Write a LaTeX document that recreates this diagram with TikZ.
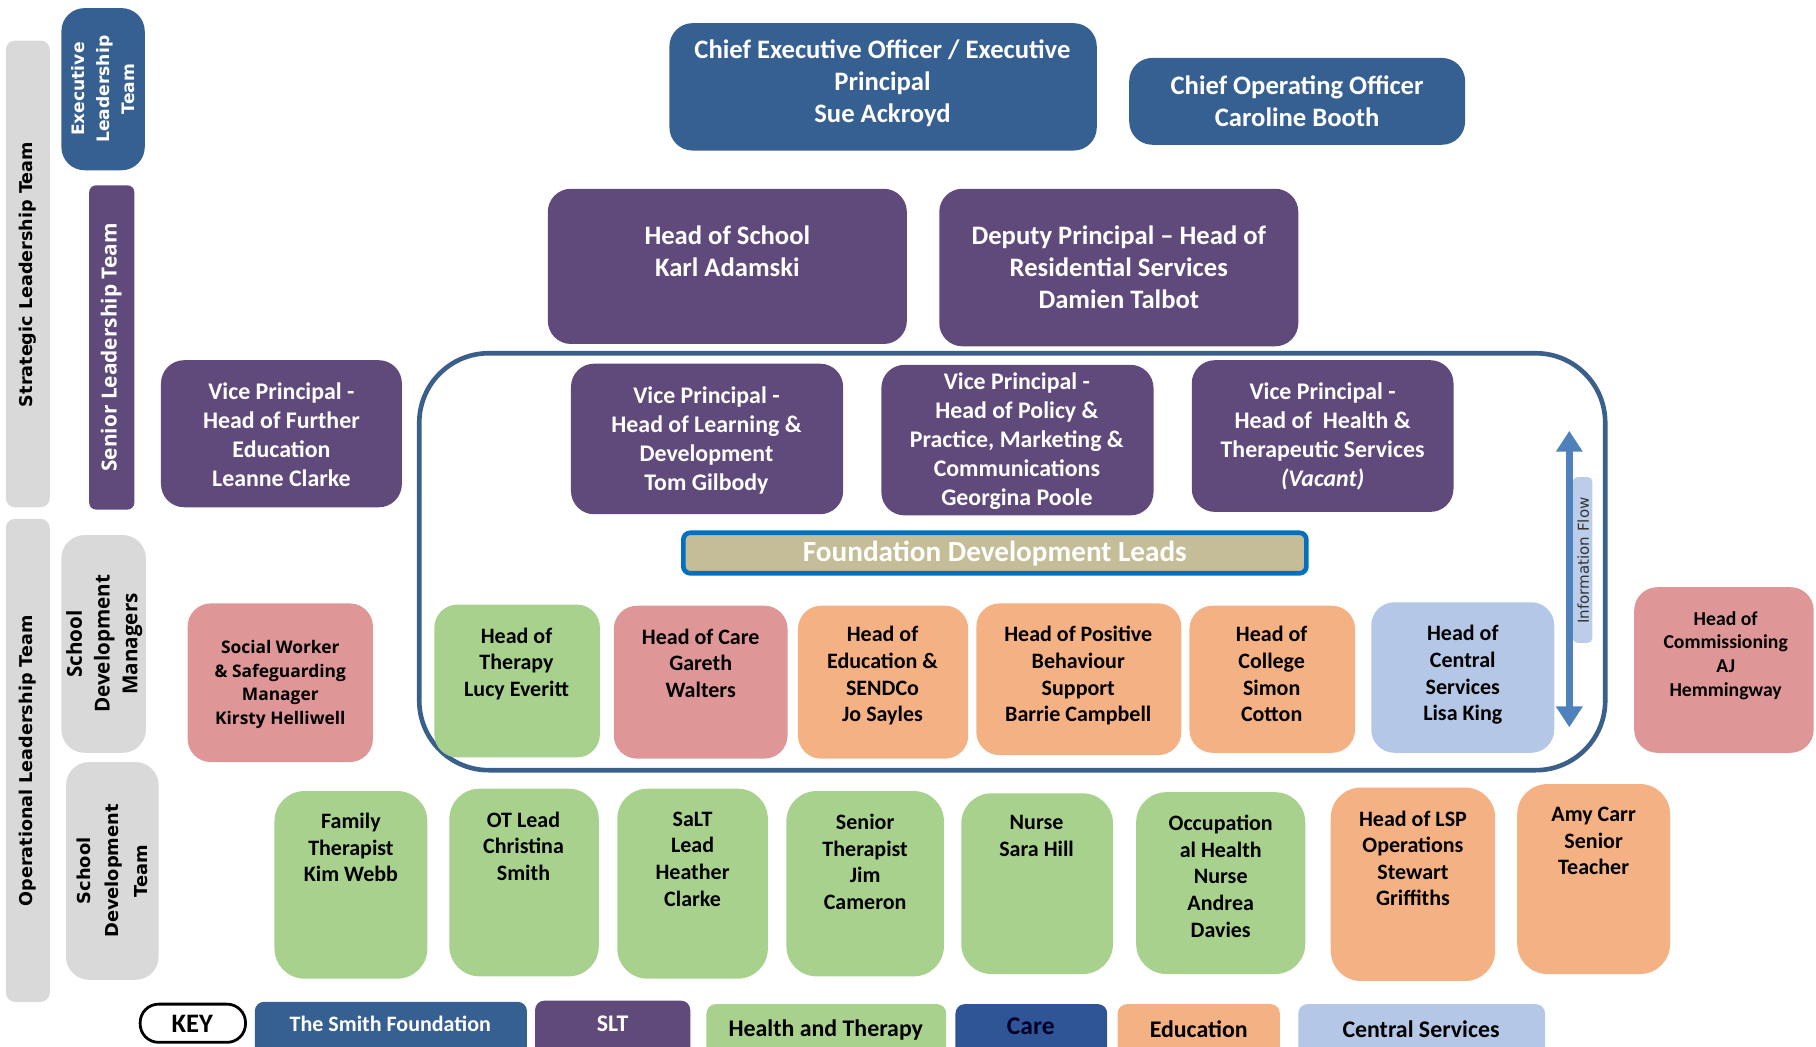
\documentclass[tikz,border=0pt]{standalone}
\usepackage{fontspec}
\setmainfont{Carlito}
\newfontfamily\verdanafont{DejaVu Sans}
\newfontfamily\opensansfont{Open Sans}
\usetikzlibrary{arrows.meta}

\definecolor{tsfblue}{HTML}{376092}
\definecolor{sltpurple}{HTML}{604A7B}
\definecolor{htgreen}{HTML}{A9D18E}
\definecolor{rosepink}{HTML}{DF9696}
\definecolor{eduorange}{HTML}{F4B183}
\definecolor{csblue}{HTML}{B4C7E7}
\definecolor{caredark}{HTML}{2F5597}
\definecolor{bandgray}{HTML}{D9D9D9}
\definecolor{fdltan}{HTML}{C4BD97}
\definecolor{fdlline}{HTML}{0070C0}
\definecolor{frameblue}{HTML}{3A5F8B}
\definecolor{flowblue}{HTML}{4F81BD}

\begin{document}
\begin{tikzpicture}[x=0.5pt, y=-0.5pt,
  orgbox/.style={rounded corners=10pt},
  staffbox/.style={rounded corners=13pt},
  band/.style={rounded corners=4pt, fill=bandgray},
  toptxt/.style={align=center, inner sep=0pt, anchor=north, font=\bfseries\fontsize{11.5}{13.8}\selectfont},
  vptxt/.style={align=center, inner sep=0pt, text=white, font=\bfseries\fontsize{10.3}{12.5}\selectfont},
  stafftxt/.style={align=center, inner sep=0pt, anchor=north, font=\bfseries\fontsize{9.5}{11.5}\selectfont},
  keytxt/.style={inner sep=0pt, font=\bfseries\fontsize{10.3}{12}\selectfont},
  sidetxt/.style={rotate=90, align=center, inner sep=0pt, font=\verdanafont\bfseries\fontsize{7.6}{12}\selectfont}]
\clip (0,0) rectangle (1568,904);

% Side bands
\fill[band] (5,35) rectangle (43,438);
\node[sidetxt] (stratlt) at (24,237) {Strategic Leadership Team};
\fill[band] (5,448) rectangle (43,865);
\node[sidetxt] (operlt) at (24,657) {Operational Leadership Team};
\fill[tsfblue, orgbox] (53,7) rectangle (125,147);
\node[sidetxt, text=white, font=\verdanafont\bfseries\fontsize{7.4}{10.8}\selectfont] (execlt) at (89,77) {Executive\\Leadership\\Team};
\fill[sltpurple, rounded corners=3pt] (77,160) rectangle (116,440);
\node[sidetxt, text=white, font=\opensansfont\bfseries\fontsize{9}{12}\selectfont] (seniorlt) at (96,300) {Senior Leadership Team};
\fill[band, rounded corners=10pt] (53,462) rectangle (126,650);
\node[sidetxt, font=\opensansfont\bfseries\fontsize{8.9}{12}\selectfont] (sdm) at (90,556) {School\\Development\\Managers};
\fill[band, rounded corners=10pt] (57,658) rectangle (137,846);
\node[sidetxt, font=\verdanafont\bfseries\fontsize{7.7}{12.2}\selectfont] (sdt) at (97,752) {School\\Development\\Team};

% Executive and senior leaders
\fill[tsfblue, orgbox] (578,20) rectangle (947,130);
\node[toptxt, text=white] (ceo) at (762,34) {Chief Executive Officer / Executive\\Principal\\Sue Ackroyd};
\fill[tsfblue, orgbox] (975,50) rectangle (1265,125);
\node[toptxt, text=white] (coo) at (1120,65) {Chief Operating Officer\\Caroline Booth};
\fill[sltpurple, orgbox] (473,163) rectangle (783,297);
\node[toptxt, text=white] (hos) at (628,195) {Head of School\\Karl Adamski};
\fill[sltpurple, orgbox] (811,163) rectangle (1121,299);
\node[toptxt, text=white] (deputy) at (966,195) {Deputy Principal -- Head of\\Residential Services\\Damien Talbot};

% Foundation frame
\draw[frameblue, line width=2pt, rounded corners=30pt] (362,305) rectangle (1386,665);

% Vice principals
\fill[sltpurple, orgbox] (139,311) rectangle (347,438);
\node[vptxt] (vpfe) at (243,375) {Vice Principal -\\Head of Further\\Education\\Leanne Clarke};
\fill[sltpurple, orgbox] (493,314) rectangle (728,444);
\node[vptxt] (vpld) at (610,380) {Vice Principal -\\Head of Learning \&\\Development\\Tom Gilbody};
\fill[sltpurple, orgbox] (761,315) rectangle (996,445);
\node[vptxt] (vppp) at (878,381) {Vice Principal -\\Head of Policy \&\\Practice, Marketing \&\\Communications\\Georgina Poole};
\fill[sltpurple, orgbox] (1029,311) rectangle (1255,442);
\node[vptxt] (vpht) at (1142,377) {Vice Principal -\\Head of\ \ Health \&\\Therapeutic Services\\\textit{(Vacant)}};

\draw[fdlline, fill=fdltan, line width=2pt, rounded corners=3pt] (590,460) rectangle (1128,495);
\node[text=white, inner sep=0pt, font=\bfseries\fontsize{12.6}{14}\selectfont] (fdl) at (859,478) {Foundation Development Leads};

% Information flow
\fill[csblue!90!white, rounded corners=2pt] (1358,412) rectangle (1375,555);
\node[rotate=90, inner sep=0pt, text=black!80, font=\verdanafont\fontsize{6.5}{8}\selectfont] (flowlabel) at (1367,484) {Information Flow};
\coordinate (flowtop) at (1355,372);
\coordinate (flowbot) at (1355,628);
\draw[flowblue, line width=2.8pt, {Triangle[width=11pt,length=9pt]}-{Triangle[width=11pt,length=9pt]}] (flowbot) -- (flowtop);

% School development managers
\fill[rosepink, orgbox] (162,521) rectangle (322,658);
\node[align=center, inner sep=0pt, font=\opensansfont\bfseries\fontsize{7.5}{10.25}\selectfont] (social) at (242,591) {Social Worker\\\& Safeguarding\\Manager\\Kirsty Helliwell};
\fill[htgreen, orgbox] (375,522) rectangle (518,654);
\node[stafftxt] (hther) at (446,541.5) {Head of\\Therapy\\Lucy Everitt};
\fill[rosepink, orgbox] (530,523) rectangle (680,655);
\node[stafftxt] (hcare) at (605,542.5) {Head of Care\\Gareth\\Walters};
\fill[eduorange, orgbox] (689,523) rectangle (836,655);
\node[stafftxt] (hedu) at (762,540.5) {Head of\\Education \&\\SENDCo\\Jo Sayles};
\fill[eduorange, orgbox] (843,521) rectangle (1020,652);
\node[stafftxt] (hpbs) at (931,540.5) {Head of Positive\\Behaviour\\Support\\Barrie Campbell};
\fill[eduorange, orgbox] (1027,523) rectangle (1170,650);
\node[stafftxt] (hcol) at (1098,540.5) {Head of\\College\\Simon\\Cotton};
\fill[csblue, orgbox] (1184,520) rectangle (1342,650);
\node[stafftxt] (hcs) at (1263,539.5) {Head of\\Central\\Services\\Lisa King};
\fill[rosepink, orgbox] (1411,507) rectangle (1566,650);
\node[stafftxt, font=\bfseries\fontsize{8.5}{10.25}\selectfont] (hcom) at (1490,527.5) {Head of\\Commissioning\\AJ\\Hemmingway};

% School development team
\fill[htgreen, staffbox] (237,683) rectangle (369,845);
\node[stafftxt] (family) at (303,701.5) {Family\\Therapist\\Kim Webb};
\fill[htgreen, staffbox] (388,681) rectangle (517,843);
\node[stafftxt] (otlead) at (452,700.5) {OT Lead\\Christina\\Smith};
\fill[htgreen, staffbox] (533,681) rectangle (663,845);
\node[stafftxt] (salt) at (598,700.5) {SaLT\\Lead\\Heather\\Clarke};
\fill[htgreen, staffbox] (679,683) rectangle (815,843);
\node[stafftxt] (senther) at (747,702.5) {Senior\\Therapist\\Jim\\Cameron};
\fill[htgreen, staffbox] (830,685) rectangle (961,841);
\node[stafftxt] (nurse) at (895,703.5) {Nurse\\Sara Hill};
\fill[htgreen, staffbox] (981,684) rectangle (1127,841);
\node[stafftxt] (ohnurse) at (1054,703.5) {Occupation\\al Health\\Nurse\\Andrea\\Davies};
\fill[eduorange, staffbox] (1149,680) rectangle (1291,847);
\node[stafftxt] (lsp) at (1220,699.5) {Head of LSP\\Operations\\Stewart\\Griffiths};
\fill[eduorange, staffbox] (1310,677) rectangle (1442,841);
\node[stafftxt] (amy) at (1376,696.5) {Amy Carr\\Senior\\Teacher};

% Key
\draw[line width=1.2pt, rounded corners=8pt] (121,867) rectangle (212,900);
\node[keytxt, font=\bfseries\fontsize{11.5}{13}\selectfont] (key) at (166,884) {KEY};
\fill[tsfblue, rounded corners=4pt] (220,865) rectangle (455,912);
\node[keytxt, text=white, font=\bfseries\fontsize{9.5}{11}\selectfont] (keytsf) at (337,884) {The Smith Foundation};
\fill[sltpurple, rounded corners=4pt] (462,864) rectangle (596,912);
\node[keytxt, text=white] (keyslt) at (529,884) {SLT};
\fill[htgreen, rounded corners=4pt] (610,867) rectangle (817,912);
\node[keytxt] (keyht) at (713,889) {Health and Therapy};
\fill[caredark, rounded corners=4pt] (825,867) rectangle (956,912);
\node[keytxt, text=black!85!blue, font=\bfseries\fontsize{11}{12}\selectfont] (keycare) at (890,886) {Care};
\fill[eduorange, rounded corners=4pt] (965,867) rectangle (1105,912);
\node[keytxt] (keyedu) at (1035,889) {Education};
\fill[csblue, rounded corners=4pt] (1121,867) rectangle (1334,912);
\node[keytxt] (keycs) at (1227,889) {Central Services};
\end{tikzpicture}
\end{document}
